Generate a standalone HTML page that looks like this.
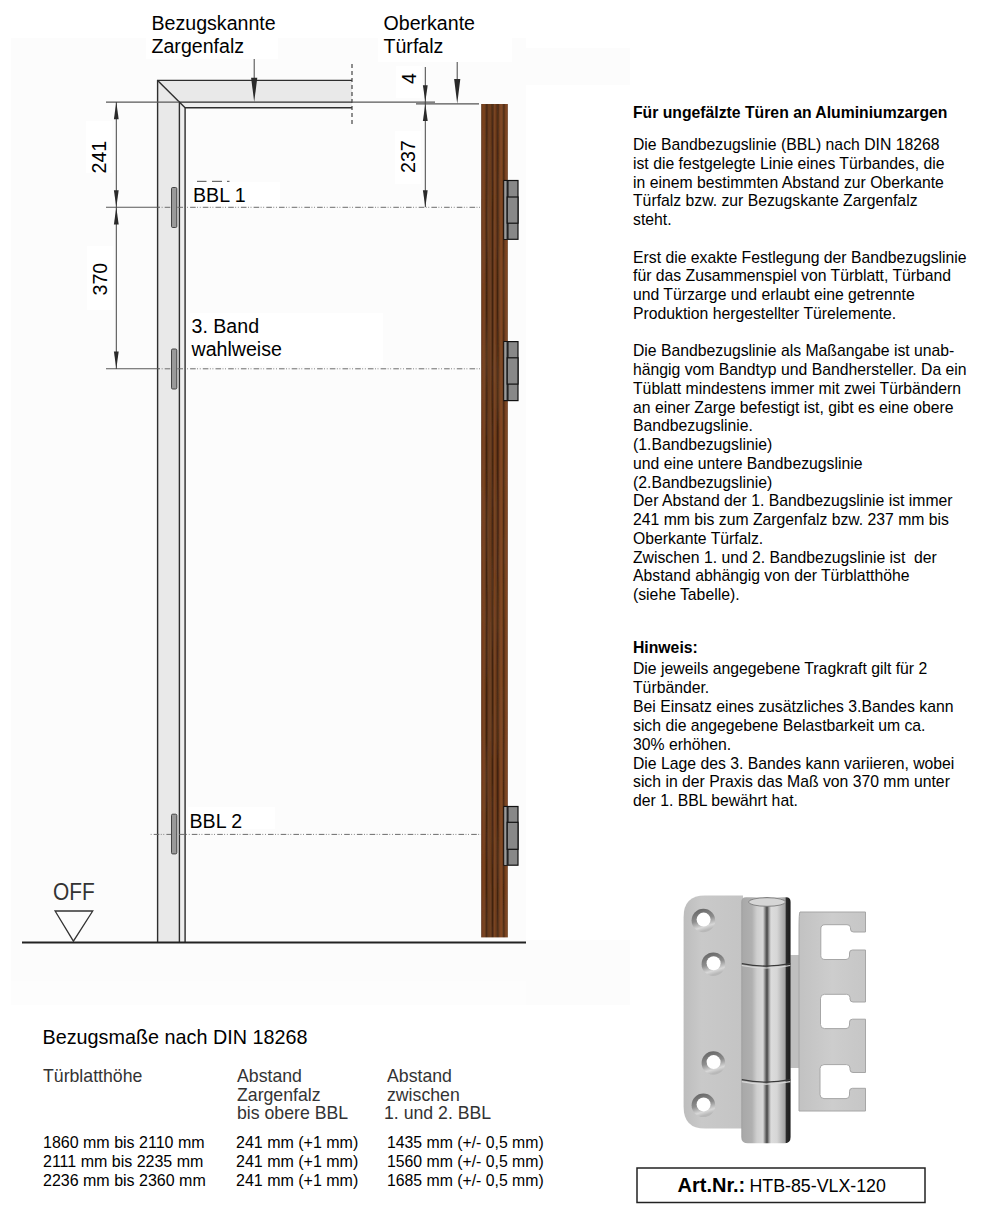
<!DOCTYPE html>
<html><head><meta charset="utf-8">
<style>
html,body{margin:0;padding:0;background:#fff;}
body{width:983px;height:1217px;position:relative;overflow:hidden;font-family:"Liberation Sans",sans-serif;color:#000;}
svg{position:absolute;left:0;top:0;}
.t{position:absolute;white-space:pre;font-size:15.75px;line-height:18.75px;color:#000;}
.b{font-weight:bold;}
.tbl{position:absolute;white-space:pre;font-size:15.7px;line-height:18.6px;}
</style></head>
<body>
<svg width="983" height="1217" viewBox="0 0 983 1217">
  <defs>
    <linearGradient id="wood" x1="481.1" x2="507.9" gradientUnits="userSpaceOnUse">
      <stop offset="0" stop-color="#4a240e"/>
      <stop offset="0.06" stop-color="#7c421f"/>
      <stop offset="0.14" stop-color="#74401e"/>
      <stop offset="0.2" stop-color="#3e200e"/>
      <stop offset="0.27" stop-color="#683a1c"/>
      <stop offset="0.36" stop-color="#6c3c1c"/>
      <stop offset="0.43" stop-color="#3e200e"/>
      <stop offset="0.5" stop-color="#7a421f"/>
      <stop offset="0.56" stop-color="#6a381a"/>
      <stop offset="0.62" stop-color="#3a1e0c"/>
      <stop offset="0.7" stop-color="#7c4420"/>
      <stop offset="0.78" stop-color="#844822"/>
      <stop offset="0.84" stop-color="#44240f"/>
      <stop offset="0.9" stop-color="#74401e"/>
      <stop offset="0.96" stop-color="#844620"/>
      <stop offset="1" stop-color="#5a2e12"/>
    </linearGradient>
    <filter id="grain" x="0" y="0" width="1" height="1">
      <feTurbulence type="fractalNoise" baseFrequency="0.5 0.012" numOctaves="2" seed="3" result="n"/>
      <feColorMatrix in="n" type="matrix" values="0 0 0 0 0.18  0 0 0 0 0.08  0 0 0 0 0.03  0 0 0 0.7 -0.25" result="c"/>
      <feComposite in="c" in2="SourceGraphic" operator="atop"/>
    </filter>
  </defs>
  <!-- diagram background -->
  <rect x="11" y="38" width="515" height="943" fill="#fcfcfc"/>
  <rect x="526" y="940" width="104" height="65" fill="#fcfcfc"/>
  <rect x="512" y="48" width="118" height="37" fill="#fcfcfc"/>
  <rect x="11" y="981" width="515" height="24" fill="#fdfdfd"/>
  <!-- white label boxes -->
  <rect x="146" y="0" width="132" height="59" fill="#fff"/>
  <rect x="378" y="0" width="134" height="62" fill="#fff"/>
  <rect x="396" y="66" width="26" height="32" fill="#fff"/>
  <rect x="86" y="121" width="26" height="52" fill="#fff"/>
  <rect x="87" y="246" width="26" height="64" fill="#fff"/>
  <rect x="395" y="131" width="26" height="53" fill="#fff"/>
  <rect x="193" y="182" width="87" height="24" fill="#fff"/>
  <rect x="190" y="313" width="193" height="53" fill="#fff"/>
  <rect x="188" y="807" width="87" height="22" fill="#fff"/>
  
  <g fill="#6a6a6a"><rect x="197" y="180.8" width="9.5" height="1.2"/><rect x="212" y="180.8" width="10" height="1.2"/><rect x="227" y="180.8" width="2.5" height="1.2"/></g>
  <!-- frame fill -->
  <path d="M157.6 80.4 H352 V102.1 H179.4 V942 H157.6 Z" fill="#e9e9e9"/>
  <path d="M179.4 102.1 H352 V107.7 H185.1 V942 H179.4 Z" fill="#eeeeee"/>
  <!-- frame lines -->
  <g stroke="#2e2e2e" stroke-width="1.4" fill="none">
    <path d="M157.6 942 V80.4 H352"/>
    <path d="M179.4 942 V102.1 H352"/>
    <path d="M185.1 942 V107.7 H352"/>
    <path d="M157.6 80.4 L185.1 107.7"/>
  </g>
  <!-- dashed vertical at frame end -->
  <line x1="352" y1="64" x2="352" y2="124" stroke="#444" stroke-width="1.2" stroke-dasharray="4 3"/>

  <!-- extension lines -->
  <g stroke="#595959" stroke-width="1.1">
    <line x1="106" y1="102.1" x2="179" y2="102.1"/>
    <line x1="352" y1="102.1" x2="435" y2="102.1"/>
    <line x1="416" y1="103.8" x2="479" y2="103.8" stroke="#555" stroke-width="1.3"/>
    <line x1="106" y1="207.3" x2="160" y2="207.3"/>
    <line x1="106" y1="368.8" x2="160" y2="368.8"/>
  </g>
  <g stroke="#6c6c6c" stroke-width="1" stroke-dasharray="5.6 1.5 0.8 1.8 0.8 2.2" stroke-dashoffset="8">
    <line x1="160" y1="207.3" x2="481" y2="207.3"/>
    <line x1="160" y1="368.8" x2="481" y2="368.8"/>
    <line x1="149" y1="834.4" x2="481" y2="834.4"/>
  </g>

  <!-- dimension lines -->
  <g stroke="#444" stroke-width="1">
    <line x1="116.3" y1="102" x2="116.3" y2="369"/>
    <line x1="425.3" y1="67" x2="425.3" y2="207"/>
    <line x1="457.2" y1="62" x2="457.2" y2="90"/>
    <line x1="254.2" y1="59" x2="254.2" y2="90"/>
  </g>
  <g fill="#2a2a2a">
    <path d="M116.3 102.1 L113.9 119.2 H118.7 Z"/>
    <path d="M116.3 207.3 L113.9 190.2 H118.7 Z"/>
    <path d="M116.3 207.3 L113.9 224.4 H118.7 Z"/>
    <path d="M116.3 368.8 L113.9 351.6 H118.7 Z"/>
    <path d="M425.3 102.1 L422.9 85.2 H427.7 Z"/>
    <path d="M425.3 103.8 L422.9 121 H427.7 Z"/>
    <path d="M425.3 207.3 L422.9 190.2 H427.7 Z"/>
    <path d="M457.2 103.8 L454.1 79 H460.3 Z"/>
    <path d="M254.2 102.1 L251.1 77.8 H257.3 Z"/>
  </g>

  <!-- small slots in frame -->
  <g fill="#999" stroke="#444" stroke-width="1">
    <rect x="171.5" y="187.5" width="5.3" height="40" rx="1.2"/>
    <rect x="171.5" y="349" width="5.3" height="40" rx="1.2"/>
    <rect x="171.5" y="814.2" width="5.3" height="39.7" rx="1.2"/>
  </g>

  <!-- ground line -->
  <line x1="22" y1="942.5" x2="526" y2="942.5" stroke="#222" stroke-width="2"/>
  <!-- OFF triangle -->
  <path d="M55.1 911 H92.7 L73.4 941.2 Z" fill="none" stroke="#333" stroke-width="1.3"/>

  <!-- door -->
  <g filter="url(#grain)"><rect x="481.2" y="104" width="26.6" height="833.4" fill="url(#wood)"/></g>

  <!-- door hinges -->
  <g id="h1">
    <rect x="504" y="180.5" width="14" height="58.8" fill="#888" stroke="#111" stroke-width="1.2"/>
    <rect x="504.3" y="181" width="2.6" height="58" fill="#9a9a9a"/>
    <rect x="506.6" y="181" width="2" height="58" fill="#222"/>
    <rect x="507.2" y="197" width="10.8" height="26.2" fill="#888" stroke="#111" stroke-width="1.2"/>
  </g>
  <g>
    <rect x="504" y="341.6" width="14" height="59" fill="#888" stroke="#111" stroke-width="1.2"/>
    <rect x="504.3" y="342" width="2.6" height="58" fill="#9a9a9a"/>
    <rect x="506.6" y="342" width="2" height="58" fill="#222"/>
    <rect x="507.2" y="357.8" width="10.8" height="26.3" fill="#888" stroke="#111" stroke-width="1.2"/>
  </g>
  <g>
    <rect x="504" y="806.5" width="14" height="58.7" fill="#888" stroke="#111" stroke-width="1.2"/>
    <rect x="504.3" y="807" width="2.6" height="58" fill="#9a9a9a"/>
    <rect x="506.6" y="807" width="2" height="58" fill="#222"/>
    <rect x="507.2" y="822.3" width="10.8" height="27" fill="#888" stroke="#111" stroke-width="1.2"/>
  </g>

  <!-- diagram text -->
  <g font-family="Liberation Sans" font-size="19.6" fill="#000">
    <text x="151.5" y="29.5">Bezugskannte</text>
    <text x="151.5" y="52.8">Zargenfalz</text>
    <text x="383.5" y="29.6">Oberkante</text>
    <text x="383.5" y="52.9">Türfalz</text>
    <text x="193" y="201.6">BBL 1</text>
    <text x="191.5" y="333.3">3. Band</text>
    <text x="191.5" y="355.7">wahlweise</text>
    <text x="189.5" y="827.5">BBL 2</text>
    <text transform="translate(106.3,173.5) rotate(-90)">241</text>
    <text transform="translate(106.8,295.5) rotate(-90)">370</text>
    <text transform="translate(414.6,173) rotate(-90)">237</text>
    <text transform="translate(416,84) rotate(-90)">4</text>
  </g>
  <text x="53" y="899.7" font-family="Liberation Sans" font-size="24" fill="#333" transform="translate(53 0) scale(0.87 1) translate(-53 0)">OFF</text>
</svg>

<!-- right text column -->
<div class="t b" style="left:633px;top:104px;">Für ungefälzte Türen an Aluminiumzargen</div>
<div class="t" style="left:633px;top:136px;">Die Bandbezugslinie (BBL) nach DIN 18268
ist die festgelegte Linie eines Türbandes, die
in einem bestimmten Abstand zur Oberkante
Türfalz bzw. zur Bezugskante Zargenfalz
steht.

Erst die exakte Festlegung der Bandbezugslinie
für das Zusammenspiel von Türblatt, Türband
und Türzarge und erlaubt eine getrennte
Produktion hergestellter Türelemente.

Die Bandbezugslinie als Maßangabe ist unab-
hängig vom Bandtyp und Bandhersteller. Da ein
Tüblatt mindestens immer mit zwei Türbändern
an einer Zarge befestigt ist, gibt es eine obere
Bandbezugslinie.
(1.Bandbezugslinie)
und eine untere Bandbezugslinie
(2.Bandbezugslinie)
Der Abstand der 1. Bandbezugslinie ist immer
241 mm bis zum Zargenfalz bzw. 237 mm bis
Oberkante Türfalz.
Zwischen 1. und 2. Bandbezugslinie ist  der
Abstand abhängig von der Türblatthöhe
(siehe Tabelle).</div>
<div class="t b" style="left:633px;top:639px;">Hinweis:</div>
<div class="t" style="left:633px;top:660px;line-height:18.9px;">Die jeweils angegebene Tragkraft gilt für 2
Türbänder.
Bei Einsatz eines zusätzliches 3.Bandes kann
sich die angegebene Belastbarkeit um ca.
30% erhöhen.
Die Lage des 3. Bandes kann variieren, wobei
sich in der Praxis das Maß von 370 mm unter
der 1. BBL bewährt hat.</div>

<!-- table -->
<div class="tbl" style="left:42.5px;top:1025px;font-size:19.8px;line-height:24px;">Bezugsmaße nach DIN 18268</div>
<div class="tbl" style="left:43px;top:1067px;color:#333;font-size:17.7px;line-height:18.5px;">Türblatthöhe</div>
<div class="tbl" style="left:237px;top:1067px;color:#333;font-size:17.7px;line-height:18.5px;">Abstand
Zargenfalz
bis obere BBL</div>
<div class="tbl" style="left:387px;top:1067px;color:#333;font-size:17.7px;line-height:18.5px;">Abstand
zwischen
<span style="margin-left:-3px">1. und 2. BBL</span></div>
<div class="tbl" style="left:43px;top:1133px;font-size:16px;line-height:19.1px;">1860 mm bis 2110 mm
2111 mm bis 2235 mm
2236 mm bis 2360 mm</div>
<div class="tbl" style="left:236px;top:1133px;font-size:16px;line-height:19.1px;">241 mm (+1 mm)
241 mm (+1 mm)
241 mm (+1 mm)</div>
<div class="tbl" style="left:387px;top:1133px;font-size:15.8px;line-height:19.1px;">1435 mm (+/- 0,5 mm)
1560 mm (+/- 0,5 mm)
1685 mm (+/- 0,5 mm)</div>

<!-- hinge photo -->
<svg width="983" height="1217" viewBox="0 0 983 1217" style="pointer-events:none">
  <defs>
    <linearGradient id="plate" x1="0" x2="1">
      <stop offset="0" stop-color="#bdbdbd"/>
      <stop offset="0.3" stop-color="#c9c9c9"/>
      <stop offset="1" stop-color="#c4c4c4"/>
    </linearGradient>
    <linearGradient id="rplate" x1="0" x2="1">
      <stop offset="0" stop-color="#c2c2c2"/>
      <stop offset="0.5" stop-color="#cdcdcd"/>
      <stop offset="1" stop-color="#c6c6c6"/>
    </linearGradient>
    <linearGradient id="barrel" x1="741" x2="791" gradientUnits="userSpaceOnUse">
      <stop offset="0" stop-color="#9c9c9c"/>
      <stop offset="0.04" stop-color="#a9a9a9"/>
      <stop offset="0.22" stop-color="#b0b0b0"/>
      <stop offset="0.32" stop-color="#cfcfcf"/>
      <stop offset="0.44" stop-color="#d8d8d8"/>
      <stop offset="0.48" stop-color="#8a8a8a"/>
      <stop offset="0.52" stop-color="#444"/>
      <stop offset="0.56" stop-color="#9a9a9a"/>
      <stop offset="0.6" stop-color="#dcdcdc"/>
      <stop offset="0.72" stop-color="#d6d6d6"/>
      <stop offset="0.88" stop-color="#a4a4a4"/>
      <stop offset="0.91" stop-color="#2a2a2a"/>
      <stop offset="0.98" stop-color="#1e1e1e"/>
      <stop offset="1" stop-color="#6a6a6a"/>
    </linearGradient>
    <radialGradient id="ring" cx="0.5" cy="0.5" r="0.5">
      <stop offset="0.55" stop-color="#fff"/>
      <stop offset="0.62" stop-color="#6a6a6a"/>
      <stop offset="0.8" stop-color="#8a8a8a"/>
      <stop offset="1" stop-color="#b5b5b5"/>
    </radialGradient>
  </defs>
  <!-- left plate -->
  <path d="M683.6 917 Q683.6 895.6 705 895.6 H743 V1128.6 H705 Q683.6 1128.6 683.6 1107 Z" fill="url(#plate)"/>
  <!-- right plate back -->
  <rect x="789" y="955" width="12" height="113" fill="#bfbfbf"/>
  <!-- right plate with slots -->
  <path d="M800 912 H865.5 V932 H853.5 Q850.5 932 850.5 929 V927.7 Q850.5 924.7 847 924.7 H825 Q820.8 924.7 820.8 929 V955.5 Q820.8 959.5 825 959.5 H846 Q849.5 959.5 849.5 956 V953 Q849.5 950 852.5 950 H865.5 V1002 H853 Q850 1002 850 999 V997.5 Q850 994.3 846.5 994.3 H824.5 Q820.5 994.3 820.5 998.3 V1024.6 Q820.5 1028.6 824.5 1028.6 H846 Q849.5 1028.6 849.5 1025 V1022.2 Q849.5 1019.2 852.5 1019.2 H865.5 V1072.5 H853 Q850 1072.5 850 1069.5 V1068 Q850 1064.6 846.5 1064.6 H824 Q820 1064.6 820 1068.6 V1094.6 Q820 1098.6 824 1098.6 H846 Q849.5 1098.6 849.5 1095 V1091.3 Q849.5 1088.3 852.5 1088.3 H865.5 V1111 H799 V930 Q799 912 800 912 Z" fill="url(#rplate)" stroke="#a6a6a6" stroke-width="1"/>
  <!-- barrel -->
  <path d="M741.3 902 Q741.3 897.2 746 897.2 H786 Q790.7 897.2 790.7 902 V1137 Q790.7 1143.3 784 1143.3 H748 Q741.3 1143.3 741.3 1137 Z" fill="url(#barrel)"/>
  <ellipse cx="767" cy="902" rx="18.5" ry="4.3" fill="#d6d6d6" stroke="#7a7a7a" stroke-width="0.9"/>
  <path d="M741.8 963.6 Q766 968.5 790.3 963.6" fill="none" stroke="#3a3a3a" stroke-width="1.3"/>
  <path d="M741.8 965.5 Q766 970.5 790.3 965.5" fill="none" stroke="#d8d8d8" stroke-width="1.2"/>
  <path d="M741.8 1079.7 Q766 1084.5 790.3 1079.7" fill="none" stroke="#3a3a3a" stroke-width="1.3"/>
  <path d="M741.8 1081.6 Q766 1086.5 790.3 1081.6" fill="none" stroke="#d8d8d8" stroke-width="1.2"/>
  <!-- holes -->
  <defs>
    <linearGradient id="ringg" x1="0" y1="0" x2="0.3" y2="1">
      <stop offset="0" stop-color="#5e5e5e"/>
      <stop offset="0.55" stop-color="#8e8e8e"/>
      <stop offset="0.85" stop-color="#d8d8d8"/>
      <stop offset="1" stop-color="#b8b8b8"/>
    </linearGradient>
  </defs>
  <g fill="url(#ringg)">
    <circle cx="703.4" cy="920.5" r="11.8"/>
    <circle cx="713.4" cy="964.2" r="11.8"/>
    <circle cx="713.4" cy="1063" r="11.8"/>
    <circle cx="703.4" cy="1105.3" r="11.8"/>
  </g>
  <g fill="#fff">
    <circle cx="703.6" cy="919.6" r="7"/>
    <circle cx="713.6" cy="963.3" r="7"/>
    <circle cx="713.6" cy="1062.1" r="7"/>
    <circle cx="703.6" cy="1104.4" r="7"/>
  </g>
  <!-- art nr box -->
  <rect x="637" y="1168" width="288" height="34.5" fill="#fff" stroke="#222" stroke-width="1.5"/>
</svg>
<div style="position:absolute;left:677.5px;top:1173px;font-size:20px;line-height:24px;white-space:pre;font-weight:bold;">Art.Nr.:</div>
<div style="position:absolute;left:749.5px;top:1174px;font-size:17.8px;line-height:24px;white-space:pre;">HTB-85-VLX-120</div>
</body></html>
